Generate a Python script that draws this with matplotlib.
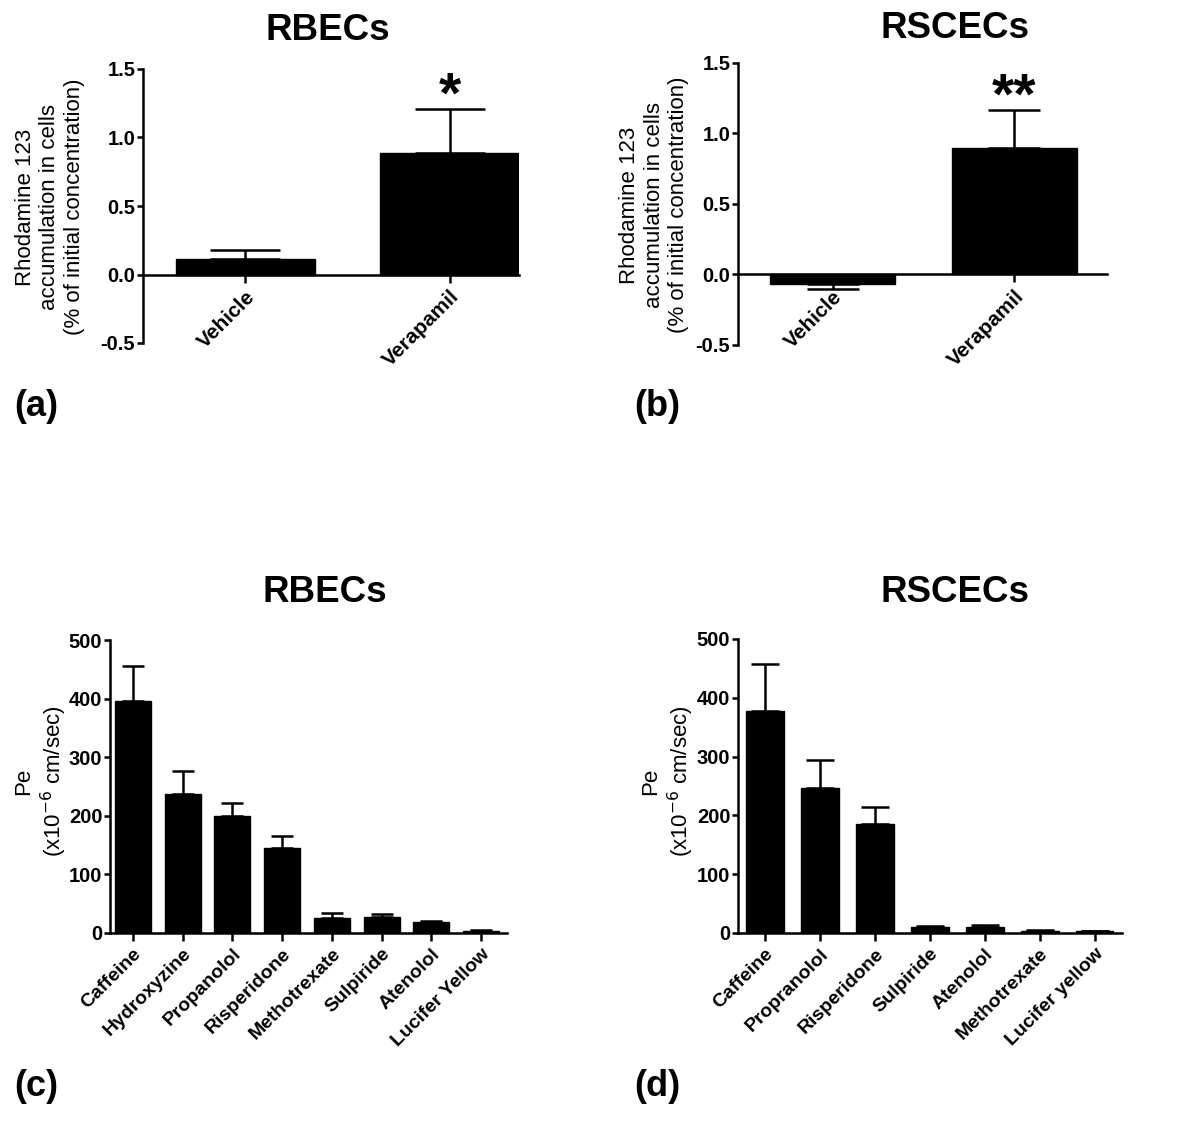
import numpy as np
import matplotlib
matplotlib.use('Agg')
import matplotlib.pyplot as plt

plt.rcParams['font.family'] = ['Liberation Sans', 'DejaVu Sans']

# Rhodamine 123 accumulation (% of initial concentration)
rh_groups = ['Vehicle', 'Verapamil']
rh_rbec = [0.11, 0.89]
rh_rbec_err = [0.07, 0.32]
rh_rbec_sig = ['', '*']
rh_rscec = [-0.07, 0.90]
rh_rscec_err = [0.03, 0.27]
rh_rscec_sig = ['', '**']

# Permeability Pe (x10^-6 cm/sec)
pe_rbec_drugs = ['Caffeine', 'Hydroxyzine', 'Propanolol', 'Risperidone',
                 'Methotrexate', 'Sulpiride', 'Atenolol', 'Lucifer Yellow']
pe_rbec = [396, 237, 200, 145, 26, 28, 18, 4]
pe_rbec_err = [60, 40, 22, 21, 8, 4, 2, 1]
pe_rscec_drugs = ['Caffeine', 'Propranolol', 'Risperidone', 'Sulpiride',
                  'Atenolol', 'Methotrexate', 'Lucifer yellow']
pe_rscec = [378, 247, 185, 10, 11, 4, 3]
pe_rscec_err = [79, 47, 29, 2, 3, 1, 1]

W, H = 1200, 1130
fig = plt.figure(figsize=(W / 100, H / 100), dpi=100)


def px_axes(left, top, right, bottom):
    return fig.add_axes([left / W, 1 - bottom / H, (right - left) / W, (bottom - top) / H])


def draw_bars(ax, labels, vals, errs, width, cap, xlim, ylim, yticks, fmt,
              xsize=14, sig=None):
    x = np.arange(len(vals))
    vals = np.array(vals)
    errs = np.array(errs)
    # one-sided error bars, pointing away from zero
    lower = np.where(vals < 0, errs, 0)
    upper = np.where(vals >= 0, errs, 0)
    ax.errorbar(x, vals, yerr=[lower, upper], fmt='none', ecolor='black',
                elinewidth=1.8, capsize=cap, capthick=1.8, zorder=1)
    ax.bar(x, vals, width, color='black', edgecolor='black', zorder=2)
    ax.set_xlim(*xlim)
    ax.set_ylim(*ylim)
    for s in ['top', 'right']:
        ax.spines[s].set_visible(False)
    ax.spines['bottom'].set_position(('data', 0))
    ax.spines['left'].set_linewidth(1.8)
    ax.spines['bottom'].set_linewidth(1.8)
    ax.tick_params(axis='y', width=1.8, length=4.5, pad=1, direction='out')
    ax.tick_params(axis='x', width=1.8, length=6, pad=3, direction='out')
    ax.set_yticks(yticks, labels=[fmt.format(t) for t in yticks],
                  fontsize=14.5, fontweight='bold')
    ax.set_xticks(x, labels=labels, rotation=45, ha='right',
                  rotation_mode='anchor', fontsize=xsize, fontweight='bold')
    if sig:
        for xi, v, e, s in zip(x, vals, errs, sig):
            if s:
                ax.text(xi, v + e + 0.08, s, ha='center', va='center',
                        fontsize=41, fontweight='bold')


rh_ticks = [-0.5, 0.0, 0.5, 1.0, 1.5]
pe_ticks = [0, 100, 200, 300, 400, 500]
rh_label = 'Rhodamine 123\naccumulation in cells\n(% of initial concentration)'
pe_label = 'Pe\n(x10$^{-6}$ cm/sec)'

ax_a = px_axes(143, 69, 519, 343)
draw_bars(ax_a, rh_groups, rh_rbec, rh_rbec_err, 0.68, 25,
          (-0.5, 1.34), (-0.5, 1.5), rh_ticks, '{:.1f}', 15, rh_rbec_sig)

ax_b = px_axes(738, 63, 1107, 345)
draw_bars(ax_b, rh_groups, rh_rscec, rh_rscec_err, 0.69, 19,
          (-0.52, 1.51), (-0.5, 1.5), rh_ticks, '{:.1f}', 15, rh_rscec_sig)

ax_c = px_axes(110, 640, 507, 933)
draw_bars(ax_c, pe_rbec_drugs, pe_rbec, pe_rbec_err, 0.72, 8,
          (-0.46, 7.52), (0, 500), pe_ticks, '{:d}', 14)

ax_d = px_axes(738, 639, 1122, 933)
draw_bars(ax_d, pe_rscec_drugs, pe_rscec, pe_rscec_err, 0.69, 10,
          (-0.49, 6.5), (0, 500), pe_ticks, '{:d}', 14)


def ftext(x, y, s, **kw):
    fig.text(x / W, 1 - y / H, s, **kw)


# titles
ftext(328, 30, 'RBECs', ha='center', va='center', fontsize=26.5, fontweight='bold')
ftext(955, 28, 'RSCECs', ha='center', va='center', fontsize=26.5, fontweight='bold')
ftext(325, 592, 'RBECs', ha='center', va='center', fontsize=26.5, fontweight='bold')
ftext(955, 592, 'RSCECs', ha='center', va='center', fontsize=26.5, fontweight='bold')

# y labels
ftext(50, 207, rh_label, ha='center', va='center', rotation=90, fontsize=16,
      multialignment='center', linespacing=1.2)
ftext(654, 205, rh_label, ha='center', va='center', rotation=90, fontsize=16,
      multialignment='center', linespacing=1.2)
ftext(41, 781, pe_label, ha='center', va='center', rotation=90, fontsize=16,
      multialignment='center', linespacing=1.2)
ftext(668, 781, pe_label, ha='center', va='center', rotation=90, fontsize=16,
      multialignment='center', linespacing=1.2)

# panel letters
for s, x, y in [('(a)', 14, 406), ('(b)', 634, 406), ('(c)', 14, 1086), ('(d)', 634, 1086)]:
    ftext(x, y, s, ha='left', va='center', fontsize=26, fontweight='bold')

fig.savefig('out.png', dpi=100)
